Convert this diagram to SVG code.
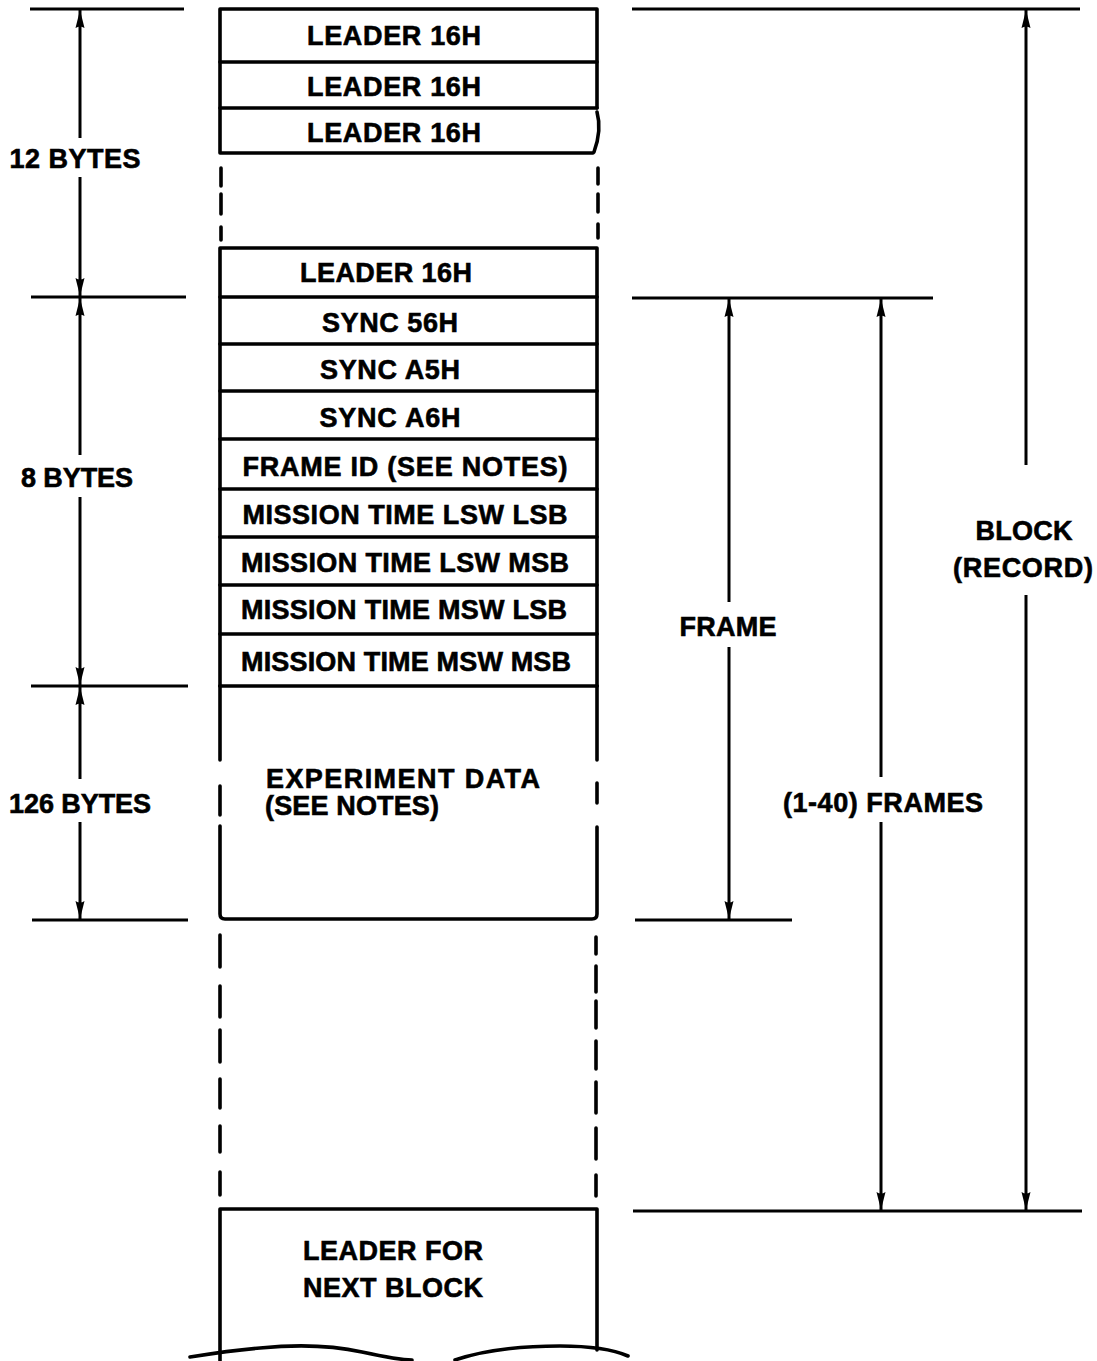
<svg xmlns="http://www.w3.org/2000/svg" width="1097" height="1361" viewBox="0 0 1097 1361">
<defs>
<style>
text{font-family:"Liberation Sans",Arial,sans-serif;font-weight:bold;font-size:27px;fill:#000;stroke:#000;stroke-width:0.6}
.c{text-anchor:middle}
.b{fill:none;stroke:#000;stroke-width:3.6;stroke-linecap:round;stroke-linejoin:round}
.d{fill:none;stroke:#000;stroke-width:3.2}
.a{fill:none;stroke:#000;stroke-width:3}
.as{marker-start:url(#ah)}
.ae{marker-end:url(#ah)}
</style>
<marker id="ah" viewBox="0 0 18 10" refX="18" refY="5" markerWidth="18" markerHeight="10" markerUnits="userSpaceOnUse" orient="auto-start-reverse">
<path d="M0,0.5 L18,5 L0,9.5 Q3,5 0,0.5 z" fill="#000"/>
</marker>
</defs>
<rect width="1097" height="1361" fill="#fff"/>

<g id="ticks">
<line class="d" x1="30" y1="9" x2="184" y2="9"/>
<line class="d" x1="31" y1="297" x2="186" y2="297"/>
<line class="d" x1="31" y1="686" x2="188" y2="686"/>
<line class="d" x1="32" y1="920" x2="188" y2="920"/>
<line class="d" x1="632" y1="9" x2="1080" y2="9"/>
<line class="d" x1="632" y1="298" x2="933" y2="298"/>
<line class="d" x1="635" y1="920" x2="792" y2="920"/>
<line class="d" x1="633" y1="1211" x2="1082" y2="1211"/>
</g>

<g id="connectors">
<line class="a as" x1="80" y1="10" x2="80" y2="138"/>
<line class="a ae" x1="80" y1="177" x2="80" y2="296"/>
<line class="a as" x1="80" y1="298" x2="80" y2="455"/>
<line class="a ae" x1="80" y1="497" x2="80" y2="685"/>
<line class="a as" x1="80" y1="687" x2="80" y2="779"/>
<line class="a ae" x1="80" y1="822" x2="80" y2="919"/>
<line class="a as" x1="729" y1="299" x2="729" y2="602"/>
<line class="a ae" x1="729" y1="647" x2="729" y2="919"/>
<line class="a as" x1="881" y1="299" x2="881" y2="777"/>
<line class="a ae" x1="881" y1="822" x2="881" y2="1210"/>
<line class="a as" x1="1026" y1="10" x2="1026" y2="465"/>
<line class="a ae" x1="1026" y1="595" x2="1026" y2="1210"/>
</g>

<g id="dim-labels">
<text class="c" x="75" y="168" textLength="131">12 BYTES</text>
<text class="c" x="77" y="487" textLength="112">8 BYTES</text>
<text class="c" x="80" y="813" textLength="142">126 BYTES</text>
<text class="c" x="728" y="636" textLength="97">FRAME</text>
<text class="c" x="883" y="812" textLength="200">(1-40) FRAMES</text>
<text class="c" x="1024" y="540" textLength="97">BLOCK</text>
<text class="c" x="1023" y="577" textLength="140">(RECORD)</text>
</g>

<g id="leader-top">
<path class="b" d="M597,108 L597,9 L220,9 L220,153 L593,153"/>
<path class="b" d="M597,112 Q602,130 594,152"/>
<line class="b" x1="220" y1="62" x2="597" y2="62"/>
<line class="b" x1="220" y1="108" x2="597" y2="108"/>
<text class="c" x="394" y="45" textLength="174">LEADER 16H</text>
<text class="c" x="394" y="96" textLength="174">LEADER 16H</text>
<text class="c" x="394" y="142" textLength="174">LEADER 16H</text>
</g>

<g id="gap-top">
<path class="b" d="M221,168 V186 M221,194 V214 M221,227 V240 M598,168 V184 M598,194 V212 M598,224 V238"/>
</g>

<g id="leader-4">
<rect class="b" x="220" y="248" width="377" height="49"/>
<text class="c" x="386" y="282" textLength="172">LEADER 16H</text>
</g>

<g id="frame-header">
<path class="b" d="M220,297 V686 M597,297 V686"/>
<path class="b" d="M220,344 H597 M220,391 H597 M220,439 H597 M220,489 H597 M220,537 H597 M220,585 H597 M220,634 H597 M220,686 H597"/>
<text class="c" x="390" y="332" textLength="136">SYNC 56H</text>
<text class="c" x="390" y="379" textLength="140">SYNC A5H</text>
<text class="c" x="390" y="427" textLength="141">SYNC A6H</text>
<text class="c" x="405" y="476" textLength="325">FRAME ID (SEE NOTES)</text>
<text class="c" x="405" y="524" textLength="325">MISSION TIME LSW LSB</text>
<text class="c" x="405" y="572" textLength="328">MISSION TIME LSW MSB</text>
<text class="c" x="404" y="619" textLength="326">MISSION TIME MSW LSB</text>
<text class="c" x="406" y="671" textLength="330">MISSION TIME MSW MSB</text>
</g>

<g id="experiment-data">
<path class="b" d="M220,686 V760 M220,786 V815 M220,826 V914 Q220,919 225,919 H592 Q597,919 597,914 V827 M597,803 V783 M597,760 V686"/>
<text x="266" y="788" textLength="274">EXPERIMENT DATA</text>
<text x="265" y="815" textLength="174">(SEE NOTES)</text>
</g>

<g id="gap-frames">
<path class="b" d="M220,935 V967 M220,986 V1017 M220,1030 V1062 M220,1079 V1108 M220,1126 V1152 M220,1172 V1195 M596,937 V954 M596,966 V992 M596,1001 V1028 M596,1041 V1069 M596,1082 V1113 M596,1128 V1159 M596,1175 V1196"/>
</g>

<g id="next-block">
<path class="b" d="M220,1361 V1209 H597 V1350"/>
<path class="b" d="M190,1357 C215,1353 235,1350 260,1348 C300,1344 335,1346 362,1352 C385,1357 400,1360 412,1360 M455,1360 C485,1350 520,1346 560,1346 C590,1346 612,1349 628,1356"/>
<text x="303" y="1260" textLength="180">LEADER FOR</text>
<text x="303" y="1297" textLength="180">NEXT BLOCK</text>
</g>
</svg>
